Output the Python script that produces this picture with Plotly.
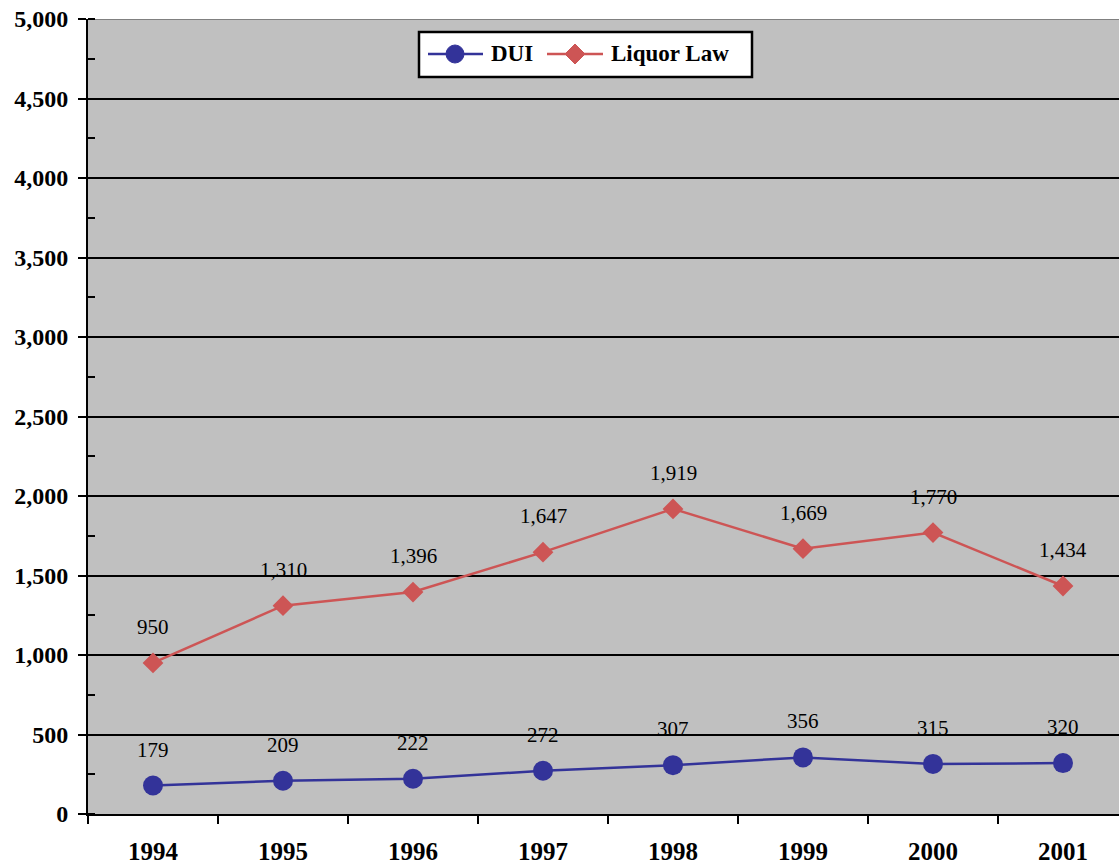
import plotly.graph_objects as go

# Arrest counts by year
years = ["1994", "1995", "1996", "1997", "1998", "1999", "2000", "2001"]
dui = [179, 209, 222, 272, 307, 356, 315, 320]
liquor_law = [950, 1310, 1396, 1647, 1919, 1669, 1770, 1434]

DUI_COLOR = "#333399"
LIQ_COLOR = "#CD5555"
SERIF = "Liberation Serif, Times New Roman, serif"

# plot-area geometry in pixels (used to place the legend box)
W, H = 1119, 867
L, T, B = 88, 19, 53
PW, PH = W - L, H - T - B


def px(x):
    return (x - L) / PW


def py(y):
    return (H - B - y) / PH


idx = list(range(len(years)))

fig = go.Figure()
fig.add_trace(go.Scatter(
    x=idx, y=dui, name="DUI", mode="lines+markers",
    line=dict(color=DUI_COLOR, width=2.5),
    marker=dict(symbol="circle", size=20, color=DUI_COLOR),
    showlegend=False,
))
fig.add_trace(go.Scatter(
    x=idx, y=liquor_law, name="Liquor Law", mode="lines+markers",
    line=dict(color=LIQ_COLOR, width=2.5),
    marker=dict(symbol="diamond", size=16, color=LIQ_COLOR),
    showlegend=False,
))

# Value labels above every point
annotations = []
for series in (dui, liquor_law):
    for i, v in zip(idx, series):
        annotations.append(dict(
            x=i, y=v, xref="x", yref="y", text=f"{v:,}",
            showarrow=False, yshift=36,
            font=dict(family=SERIF, size=21, color="black"),
        ))

shapes = [
    # grey plot-area border along the top
    dict(type="line", xref="paper", yref="y", x0=0, x1=1, y0=5000, y1=5000,
         line=dict(color="#808080", width=2), layer="above"),
    # inner half of the top major tick
    dict(type="line", xref="paper", yref="y", x0=0, x1=7 / PW, y0=5000, y1=5000,
         line=dict(color="black", width=2), layer="above"),
]

# Legend box
legend_font = dict(family=SERIF, size=23, color="black", weight="bold")
shapes.append(dict(type="rect", xref="paper", yref="paper",
                   x0=px(419), x1=px(752), y0=py(77), y1=py(32),
                   fillcolor="white", line=dict(color="black", width=2.5),
                   layer="above"))
ly = py(54)
# DUI entry
shapes.append(dict(type="line", xref="paper", yref="paper",
                   x0=px(428), x1=px(483), y0=ly, y1=ly,
                   line=dict(color=DUI_COLOR, width=2.5), layer="above"))
shapes.append(dict(type="circle", xref="paper", yref="paper",
                   xsizemode="pixel", ysizemode="pixel",
                   xanchor=px(455), yanchor=ly,
                   x0=-9, x1=9, y0=-9, y1=9,
                   fillcolor=DUI_COLOR, line=dict(color=DUI_COLOR, width=1),
                   layer="above"))
annotations.append(dict(x=px(489), y=ly, xref="paper", yref="paper",
                        xanchor="left", yanchor="middle", text="DUI",
                        showarrow=False, font=legend_font))
# Liquor Law entry
shapes.append(dict(type="line", xref="paper", yref="paper",
                   x0=px(547), x1=px(603), y0=ly, y1=ly,
                   line=dict(color=LIQ_COLOR, width=2.5), layer="above"))
shapes.append(dict(type="path", xref="paper", yref="paper",
                   xsizemode="pixel", ysizemode="pixel",
                   xanchor=px(575), yanchor=ly,
                   path="M -10 0 L 0 10 L 10 0 L 0 -10 Z",
                   fillcolor=LIQ_COLOR, line=dict(color=LIQ_COLOR, width=1),
                   layer="above"))
annotations.append(dict(x=px(609), y=ly, xref="paper", yref="paper",
                        xanchor="left", yanchor="middle", text="Liquor Law",
                        showarrow=False, font=legend_font))

fig.update_layout(
    width=W, height=H,
    margin=dict(l=L, r=0, t=T, b=B),
    paper_bgcolor="white",
    plot_bgcolor="#C0C0C0",
    showlegend=False,
    annotations=annotations,
    shapes=shapes,
)

fig.update_xaxes(
    range=[-0.5, -0.5 + PW / 130],
    tickvals=idx, ticktext=years, ticks="",
    minor=dict(tickvals=[i - 0.5 for i in idx] + [len(idx) - 0.5],
               ticks="outside", ticklen=8, tickwidth=2, tickcolor="black",
               showgrid=False),
    showline=True, linecolor="black", linewidth=2,
    showgrid=False, zeroline=False,
    ticklabelstandoff=14,
    automargin=False,
    tickfont=dict(family=SERIF, size=25, color="black", weight="bold"),
)

fig.update_yaxes(
    range=[0, 5000], dtick=500, tickformat=",d",
    ticks="outside", ticklen=8, tickwidth=2, tickcolor="black",
    minor=dict(dtick=250, ticks="inside", ticklen=7, tickwidth=2,
               tickcolor="black", showgrid=False),
    showline=True, linecolor="black", linewidth=2,
    showgrid=True, gridcolor="black", gridwidth=2,
    zeroline=False,
    ticklabelstandoff=5,
    automargin=False,
    tickfont=dict(family=SERIF, size=24, color="black", weight="bold"),
)

fig.write_html("out.html")
